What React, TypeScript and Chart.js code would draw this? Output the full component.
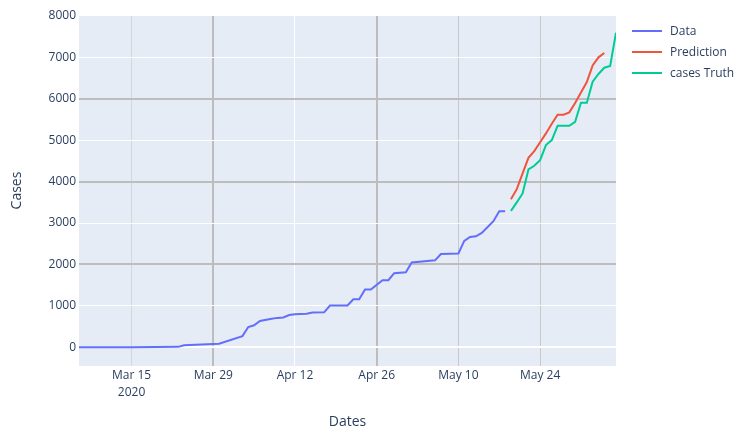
import React, { useEffect, useRef } from "react";
import { Chart, registerables } from "chart.js";

Chart.register(...registerables);

const START_DATE = "2020-03-06";
const END_DATE = "2020-06-06";

const seriesNames = ["Data", "Prediction", "cases Truth"];
const seriesColors = ["#636efa", "#EF553B", "#00cc96"];

const dataDates = [
  "2020-03-06", "2020-03-15", "2020-03-23", "2020-03-24", "2020-03-27", "2020-03-30",
  "2020-04-03", "2020-04-04", "2020-04-05", "2020-04-06", "2020-04-08", "2020-04-09",
  "2020-04-10", "2020-04-11", "2020-04-12", "2020-04-14", "2020-04-15", "2020-04-17",
  "2020-04-18", "2020-04-21", "2020-04-22", "2020-04-23", "2020-04-24", "2020-04-25",
  "2020-04-27", "2020-04-28", "2020-04-29", "2020-05-01", "2020-05-02", "2020-05-06",
  "2020-05-07", "2020-05-10", "2020-05-11", "2020-05-12", "2020-05-13", "2020-05-14",
  "2020-05-16", "2020-05-17", "2020-05-18",
];
const dataValues = [
  0, 3, 10, 50, 70, 85,
  270, 490, 530, 635, 690, 710,
  720, 780, 800, 810, 840, 845,
  1008, 1010, 1160, 1160, 1395, 1395,
  1620, 1620, 1790, 1810, 2050, 2100,
  2250, 2265, 2570, 2665, 2680, 2760,
  3045, 3287, 3287,
];

const predDates = [
  "2020-05-19", "2020-05-20", "2020-05-21", "2020-05-22", "2020-05-23", "2020-05-24",
  "2020-05-25", "2020-05-26", "2020-05-27", "2020-05-28", "2020-05-29", "2020-05-30",
  "2020-05-31", "2020-06-01", "2020-06-02", "2020-06-03", "2020-06-04",
];
const predValues = [
  3577, 3819, 4200, 4575, 4737, 4950,
  5165, 5400, 5615, 5615, 5672, 5900,
  6150, 6404, 6808, 7002, 7106,
];

const truthDates = [
  "2020-05-19", "2020-05-20", "2020-05-21", "2020-05-22", "2020-05-23", "2020-05-24",
  "2020-05-25", "2020-05-26", "2020-05-27", "2020-05-28", "2020-05-29", "2020-05-30",
  "2020-05-31", "2020-06-01", "2020-06-02", "2020-06-03", "2020-06-04", "2020-06-05",
  "2020-06-06",
];
const truthValues = [
  3294, 3500, 3715, 4295, 4382, 4520,
  4882, 5003, 5349, 5349, 5349, 5445,
  5904, 5904, 6412, 6600, 6751, 6792,
  7596,
];

const xTickDates = ["2020-03-15", "2020-03-29", "2020-04-12", "2020-04-26", "2020-05-10", "2020-05-24"];
const yTickValues = [0, 1000, 2000, 3000, 4000, 5000, 6000, 7000, 8000];
const Y_MIN = -452;
const Y_MAX = 8024;

const MONTHS = ["Jan", "Feb", "Mar", "Apr", "May", "Jun", "Jul", "Aug", "Sep", "Oct", "Nov", "Dec"];

function toUTC(s: string) {
  const [y, m, d] = s.split("-").map(Number);
  return Date.UTC(y, m - 1, d);
}
function dayOf(s: string) {
  return Math.round((toUTC(s) - toUTC(START_DATE)) / 86400000);
}
function labelOf(day: number, idx: number) {
  const dt = new Date(toUTC(START_DATE) + day * 86400000);
  const base = `${MONTHS[dt.getUTCMonth()]} ${dt.getUTCDate()}`;
  return idx === 0 ? [base, String(dt.getUTCFullYear())] : base;
}

const FONT = "'Open Sans', verdana, arial, sans-serif";
const TEXT_COLOR = "#2a3f5f";

const xGridColors = ["#d3d6db", "#bdbdbd", "#ffffff", "#bdbdbd", "#c9c9c9", "#c9c9c9"];
const xGridWidths = [1, 2, 1, 2, 1, 1];

const bgPlugin = {
  id: "plotBg",
  beforeDraw(chart: any) {
    const { ctx, chartArea } = chart;
    ctx.save();
    ctx.fillStyle = "#E5ECF6";
    ctx.fillRect(chartArea.left, chartArea.top, chartArea.right - chartArea.left, chartArea.bottom - chartArea.top);
    ctx.restore();
  },
};

const legendPlugin = {
  id: "plotLegend",
  afterDraw(chart: any) {
    const { ctx } = chart;
    ctx.save();
    chart.data.datasets.forEach((ds: any, i: number) => {
      const y = 31 + i * 21;
      ctx.strokeStyle = ds.borderColor;
      ctx.lineWidth = 2;
      ctx.beginPath();
      ctx.moveTo(632, y);
      ctx.lineTo(662, y);
      ctx.stroke();
      ctx.fillStyle = TEXT_COLOR;
      ctx.font = `12px ${FONT}`;
      ctx.textBaseline = "middle";
      ctx.textAlign = "left";
      ctx.fillText(ds.label, 670, y + 1);
    });
    ctx.restore();
  },
};

function toPoints(dates: string[], values: number[]) {
  return dates.map((d, i) => ({ x: dayOf(d), y: values[i] }));
}

export default function App() {
  const ref = useRef<HTMLCanvasElement | null>(null);

  useEffect(() => {
    if (!ref.current) return;
    const series = [
      toPoints(dataDates, dataValues),
      toPoints(predDates, predValues),
      toPoints(truthDates, truthValues),
    ];
    const chart = new Chart(ref.current, {
      type: "line",
      data: {
        datasets: series.map((pts, i) => ({
          label: seriesNames[i],
          data: pts,
          borderColor: seriesColors[i],
          backgroundColor: seriesColors[i],
          borderWidth: 2,
          pointRadius: 0,
          tension: 0,
          fill: false,
        })),
      },
      options: {
        animation: false,
        responsive: false,
        devicePixelRatio: 1,
        layout: { padding: { left: 0, top: 15, right: 134, bottom: 0 } },
        plugins: {
          legend: { display: false },
          tooltip: { enabled: false },
        },
        scales: {
          x: {
            type: "linear",
            min: dayOf(START_DATE),
            max: dayOf(END_DATE),
            border: { display: false },
            grid: {
              drawTicks: false,
              color: (ctx: any) => xGridColors[ctx.index] ?? "#ffffff",
              lineWidth: (ctx: any) => xGridWidths[ctx.index] ?? 1,
            },
            afterBuildTicks: (scale: any) => {
              scale.ticks = xTickDates.map((d) => ({ value: dayOf(d) }));
            },
            afterFit: (scale: any) => {
              scale.height = 68;
            },
            ticks: {
              autoSkip: false,
              maxRotation: 0,
              padding: 1,
              color: TEXT_COLOR,
              font: { family: FONT, size: 12, lineHeight: 1.4 },
              callback: (v: any, idx: number) => labelOf(Number(v), idx),
            },
            title: {
              display: true,
              text: "Dates",
              color: TEXT_COLOR,
              font: { family: FONT, size: 14 },
              padding: { top: 0, bottom: 3.6 },
            },
          },
          y: {
            type: "linear",
            min: Y_MIN,
            max: Y_MAX,
            border: { display: false },
            grid: {
              drawTicks: false,
              color: (ctx: any) => {
                const v = ctx.tick?.value;
                if (v === 0 || v === 8000) return "#ffffff";
                return v % 2000 === 0 ? "#bdbdbd" : "#ffffff";
              },
              lineWidth: (ctx: any) => {
                const v = ctx.tick?.value;
                if (v === 0) return 2;
                if (v === 8000) return 1;
                return v % 2000 === 0 ? 2 : 1;
              },
            },
            afterBuildTicks: (scale: any) => {
              scale.ticks = yTickValues.map((v) => ({ value: v }));
            },
            afterFit: (scale: any) => {
              scale.width = 79;
            },
            ticks: {
              padding: 3,
              color: TEXT_COLOR,
              font: { family: FONT, size: 12 },
              callback: (v: any) => String(v),
            },
            title: {
              display: true,
              text: "Cases",
              color: TEXT_COLOR,
              font: { family: FONT, size: 14 },
              padding: { top: 9, bottom: 0 },
            },
          },
        },
      } as any,
      plugins: [bgPlugin, legendPlugin],
    });
    return () => chart.destroy();
  }, []);

  return (
    <div style={{ position: "fixed", left: 0, top: 0, width: 750, height: 434, background: "#ffffff" }}>
      <canvas ref={ref} width={750} height={434} style={{ display: "block", width: 750, height: 434 }} />
    </div>
  );
}
